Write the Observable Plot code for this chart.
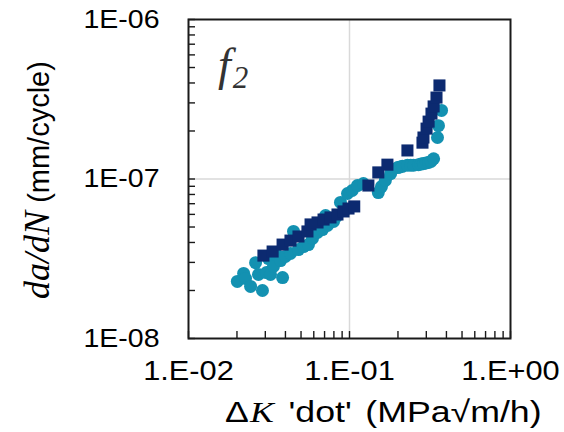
<!DOCTYPE html>
<html><head><meta charset="utf-8">
<script src="https://cdn.jsdelivr.net/npm/d3@7"></script>
<script src="https://cdn.jsdelivr.net/npm/@observablehq/plot@0.6"></script>
<style>body{margin:0;background:#fff;} svg{display:block}</style>
</head><body><div id="chart"></div>
<script>
// Series 1: dark navy squares
const squareX = [0.0292,0.0333,0.0384,0.0430,0.0482,0.0548,0.0573,0.0633,0.0690,0.0762,0.0842,0.0918,0.0986,0.107,0.131,0.151,0.172,0.229,0.284,0.288,0.301,0.310,0.323,0.333,0.347,0.362];
const squareY = [3.31e-8,3.51e-8,3.88e-8,4.11e-8,4.36e-8,4.69e-8,5.19e-8,5.34e-8,5.57e-8,5.74e-8,5.99e-8,6.26e-8,6.53e-8,6.73e-8,9.10e-8,1.10e-7,1.23e-7,1.51e-7,1.69e-7,1.82e-7,2.07e-7,2.29e-7,2.57e-7,2.85e-7,3.24e-7,3.86e-7];
// Series 2: teal circles
const circleX = [0.0201,0.0220,0.0226,0.0243,0.0261,0.0272,0.0288,0.0305,0.0314,0.0323,0.0337,0.0352,0.0373,0.0384,0.0400,0.0430,0.0449,0.0482,0.0518,0.0556,0.0589,0.0633,0.0679,0.0710,0.0730,0.0796,0.0830,0.0879,0.0931,0.0972,0.104,0.112,0.122,0.151,0.158,0.167,0.180,0.199,0.206,0.213,0.229,0.240,0.250,0.268,0.278,0.288,0.299,0.310,0.321,0.333,0.352,0.357,0.373];
const circleY = [2.28e-8,2.56e-8,2.38e-8,2.12e-8,2.99e-8,2.52e-8,2.00e-8,2.59e-8,3.17e-8,2.52e-8,2.83e-8,3.36e-8,3.08e-8,2.41e-8,3.27e-8,3.41e-8,4.69e-8,3.61e-8,3.77e-8,3.88e-8,4.24e-8,4.62e-8,4.82e-8,5.90e-8,5.11e-8,5.42e-8,5.82e-8,7.13e-8,6.35e-8,8.11e-8,8.47e-8,9.10e-8,9.37e-8,8.22e-8,8.97e-8,9.79e-8,1.08e-7,1.18e-7,1.19e-7,1.20e-7,1.22e-7,1.22e-7,1.22e-7,1.23e-7,1.24e-7,1.25e-7,1.26e-7,1.27e-7,1.29e-7,1.34e-7,1.82e-7,2.16e-7,2.69e-7];
// Tick labels
const xMajor = [0.01, 0.1, 1];
const xTickLabels = ["1.E-02", "1.E-01", "1.E+00"];
const yMajor = [1e-8, 1e-7, 1e-6];
const yTickLabels = ["1E-08", "1E-07", "1E-06"];

const squares = squareX.map((x, i) => ({x, y: squareY[i]}));
const circles = circleX.map((x, i) => ({x, y: circleY[i]}));

function minorTicks(lo, hi) {
  const out = [];
  for (let e = lo; e < hi; e++) for (let m = 1; m <= 9; m++) out.push(m * Math.pow(10, e));
  out.push(Math.pow(10, hi));
  return out;
}
const xMinor = minorTicks(-2, 0);
const yMinor = minorTicks(-8, -6);

const navy = "#0c2a70";
const teal = "#1391b1";
const font = "'Liberation Sans', Arial, sans-serif";
const serif = "'Liberation Serif', 'Times New Roman', serif";
const stretch = 1.14; // the reference text is slightly wider than tall

const plot = Plot.plot({
  width: 564, height: 432,
  marginLeft: 188, marginRight: 54, marginTop: 19, marginBottom: 94,
  style: {fontFamily: font, fontSize: "26px", color: "#000", background: "#fff", overflow: "visible"},
  x: {type: "log", domain: [0.01, 1]},
  y: {type: "log", domain: [1e-8, 1e-6]},
  marks: [
    Plot.gridX([0.1], {stroke: "#d9d9d9", strokeOpacity: 1, strokeWidth: 1.5}),
    Plot.gridY([1e-7], {stroke: "#d9d9d9", strokeOpacity: 1, strokeWidth: 1.5}),
    Plot.axisX(xMinor, {anchor: "bottom", tickSize: -7, tickFormat: () => "", stroke: "#1a1a1a", strokeWidth: 1.4, label: null}),
    Plot.axisY(yMinor, {anchor: "left", tickSize: -7, tickFormat: () => "", stroke: "#1a1a1a", strokeWidth: 1.4, label: null}),
    Plot.axisX(xMajor, {anchor: "bottom", tickSize: 0, tickPadding: 22, fontSize: 27, fill: "#000", tickFormat: d => xTickLabels[xMajor.indexOf(d)], label: null}),
    Plot.axisY(yMajor, {anchor: "left", tickSize: 0, tickPadding: 29, fontSize: 25, fill: "#000", tickFormat: d => yTickLabels[yMajor.indexOf(d)], label: null}),
    Plot.dot(circles, {x: "x", y: "y", r: 6.5, fill: teal, symbol: "circle"}),
    Plot.dot(squares, {x: "x", y: "y", r: 6.8, fill: navy, symbol: "square"}),
    Plot.frame({stroke: "#1a1a1a", strokeWidth: 2})
  ]
});

const svg = d3.select(plot);
// widen tick label glyphs around their anchor points
svg.selectAll("g[aria-label$='tick label'] text").each(function() {
  const t = d3.select(this);
  const tr = t.attr("transform");
  if (tr) {
    t.attr("transform", tr + ` scale(${stretch},1)`);
  } else {
    const x = +t.attr("x") || 0, y = +t.attr("y") || 0;
    t.attr("x", null).attr("y", null).attr("transform", `translate(${x},${y}) scale(${stretch},1)`);
  }
});
// x-axis title
const xt = svg.append("text").attr("transform", `translate(225,422) scale(1.19,1)`)
  .attr("text-anchor", "start")
  .style("font-family", font).style("font-size", "30px").style("white-space", "pre").attr("fill", "#000");
xt.append("tspan").text("Δ");
xt.append("tspan").style("font-family", serif).style("font-style", "italic").attr("dx", 1).text("K");
xt.append("tspan").attr("dx", 4).text(" 'dot' ");
xt.append("tspan").attr("dx", 3).text("(MPa√m/h)");
// y-axis title
const yt = svg.append("text").attr("transform", "translate(49,180) rotate(-90)").attr("text-anchor", "middle")
  .style("font-family", font).style("font-size", "29px").attr("fill", "#000");
yt.append("tspan").style("font-family", serif).style("font-style", "italic").style("font-size", "36px").text("da/dN");
yt.append("tspan").text(" (mm/cycle)");
// panel label
const fl = svg.append("text").attr("x", 218).attr("y", 80).attr("text-anchor", "start").attr("fill", "#333")
  .style("font-family", serif).style("font-style", "italic");
fl.append("tspan").style("font-size", "46px").text("f");
fl.append("tspan").style("font-size", "31px").attr("dy", 8).attr("dx", 2).text("2");

document.getElementById("chart").appendChild(plot);
</script>
</body></html>
